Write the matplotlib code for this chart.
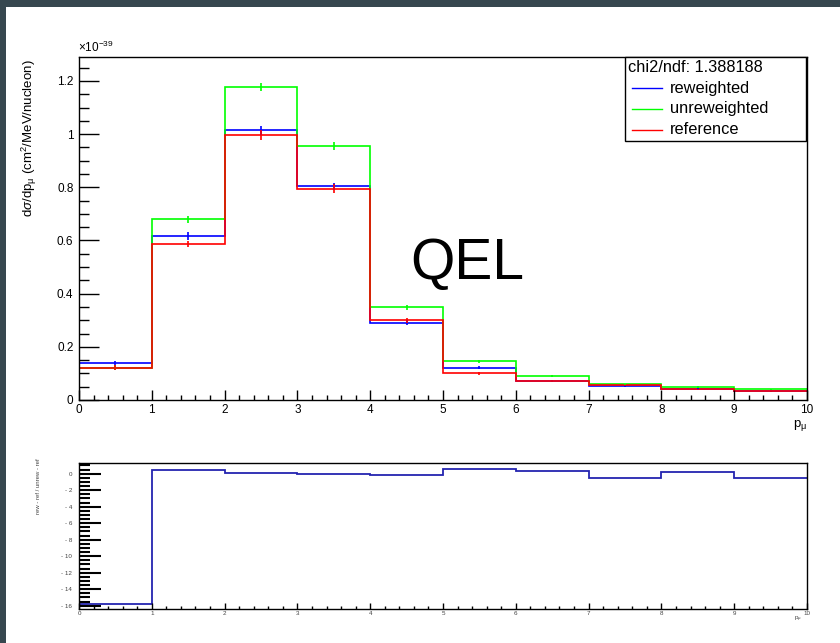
import matplotlib
matplotlib.use("Agg")
import matplotlib.pyplot as plt
from matplotlib.ticker import MultipleLocator, FuncFormatter
from matplotlib.patches import Rectangle
from matplotlib.lines import Line2D

plt.rcParams['font.family'] = ['Liberation Sans', 'DejaVu Sans']
plt.rcParams['mathtext.fontset'] = 'custom'
plt.rcParams['mathtext.rm'] = 'Liberation Sans'
plt.rcParams['mathtext.it'] = 'Liberation Sans:italic'
plt.rcParams['mathtext.bf'] = 'Liberation Sans:bold'

# ---- data (cross sections in units of 1e-39 cm^2/MeV/nucleon) ----
bin_edges = [0, 1, 2, 3, 4, 5, 6, 7, 8, 9, 10]
reweighted = [0.138, 0.617, 1.014, 0.803, 0.291, 0.122, 0.073, 0.052, 0.041, 0.033]
unreweighted = [0.122, 0.679, 1.177, 0.956, 0.348, 0.146, 0.089, 0.059, 0.050, 0.040]
reference = [0.122, 0.586, 0.996, 0.795, 0.299, 0.100, 0.072, 0.055, 0.040, 0.033]
err_reweighted = [0.008, 0.014, 0.018, 0.015, 0.009, 0.005, 0.004, 0.003, 0.003, 0.002]
err_unreweighted = [0.008, 0.012, 0.016, 0.014, 0.008, 0.005, 0.004, 0.003, 0.003, 0.002]
err_reference = [0.008, 0.012, 0.018, 0.016, 0.009, 0.005, 0.004, 0.003, 0.003, 0.002]
ratio = [-15.75, 0.46, 0.12, 0.01, -0.17, 0.53, 0.33, -0.53, 0.16, -0.53]
chi2_ndf = 1.388188
process_name = "QEL"

C_BLUE = '#0000ff'
C_GREEN = '#00ff00'
C_RED = '#ff0000'

W, H = 840, 643
fig = plt.figure(figsize=(W / 100, H / 100), dpi=100)
fig.patch.set_facecolor('#37474f')
# white canvas
fig.patches.append(Rectangle((6 / W, 0), 1, 1 - 7 / H, transform=fig.transFigure,
                             facecolor='white', edgecolor='none', zorder=-10))


def fx(px):
    return px / W


def fy(py):
    return 1 - py / H


centers = [(a + b) / 2 for a, b in zip(bin_edges[:-1], bin_edges[1:])]

# ---------------- main pad ----------------
ax = fig.add_axes([fx(79), fy(400), (807 - 79) / W, (400 - 57) / H])
for vals, errs, col in [(reweighted, err_reweighted, C_BLUE),
                        (unreweighted, err_unreweighted, C_GREEN),
                        (reference, err_reference, C_RED)]:
    ax.stairs(vals, bin_edges, baseline=None, color=col, lw=1.2)
    ax.errorbar(centers, vals, yerr=errs, fmt='none', ecolor=col, elinewidth=1.2, capsize=0)

ax.set_xlim(0, 10)
ax.set_ylim(0, 1.29)
ax.xaxis.set_major_locator(MultipleLocator(1))
ax.xaxis.set_minor_locator(MultipleLocator(0.2))
ax.yaxis.set_major_locator(MultipleLocator(0.2))
ax.yaxis.set_minor_locator(MultipleLocator(0.05))
fmt = FuncFormatter(lambda v, p: f"{v:g}")
ax.xaxis.set_major_formatter(fmt)
ax.yaxis.set_major_formatter(fmt)
ax.tick_params(axis='both', which='both', direction='in', top=False, right=False,
               colors='black', labelsize=8.5)
ax.tick_params(axis='y', which='major', length=14.5, width=1.0, pad=4)
ax.tick_params(axis='y', which='minor', length=7.2, width=1.0)
ax.tick_params(axis='x', which='major', length=7.2, width=1.0, pad=3)
ax.tick_params(axis='x', which='minor', length=3.6, width=1.0)
for s in ax.spines.values():
    s.set_linewidth(1.0)

fig.text(fx(410), fy(279), process_name, fontsize=41, ha='left', va='baseline')

fig.text(fx(78), fy(52), r'$\times$10$^{-39}$', fontsize=8.5, ha='left', va='baseline')
fig.text(fx(29), fy(59), r'd$\sigma$/dp$_{\mathrm{\mu}}$ (cm$^{2}$/MeV/nucleon)',
         rotation=90, fontsize=9.5, ha='center', va='top')
fig.text(fx(807), fy(418), r'p$_{\mathrm{\mu}}$', fontsize=9.5, ha='right', va='top')

# legend box
fig.patches.append(Rectangle((fx(625), fy(141)), (806 - 625) / W, (141 - 57) / H,
                             transform=fig.transFigure, facecolor='white',
                             edgecolor='black', lw=1.0, zorder=5))
fig.text(fx(628), fy(67), f"chi2/ndf: {chi2_ndf:.6f}", fontsize=11.8, ha='left',
         va='center', zorder=6)
for label, col, yy in [('reweighted', C_BLUE, 88), ('unreweighted', C_GREEN, 109),
                       ('reference', C_RED, 130)]:
    fig.lines.append(Line2D([fx(632), fx(662)], [fy(yy), fy(yy)], color=col, lw=1.0,
                            transform=fig.transFigure, zorder=6))
    fig.text(fx(670), fy(yy), label, fontsize=11.8, ha='left', va='center', zorder=6)

# ---------------- ratio pad ----------------
ax2 = fig.add_axes([fx(79), fy(609), (807 - 79) / W, (609 - 463) / H])
ax2.stairs(ratio, bin_edges, baseline=None, color='#2424b0', lw=1.3)
ax2.set_xlim(0, 10)
ax2.set_ylim(-16.4, 1.3)
ax2.xaxis.set_major_locator(MultipleLocator(1))
ax2.xaxis.set_minor_locator(MultipleLocator(0.2))
ax2.yaxis.set_major_locator(MultipleLocator(2))
ax2.yaxis.set_minor_locator(MultipleLocator(0.5))
ax2.xaxis.set_major_formatter(fmt)
ax2.yaxis.set_major_formatter(FuncFormatter(lambda v, p: f"{v:g}".replace('-', '- ')))
ax2.tick_params(axis='both', which='both', direction='in', top=False, right=False,
                colors='black', labelsize=4.5, labelcolor='#444444')
ax2.tick_params(axis='y', which='major', length=16, width=1.5, pad=5)
ax2.tick_params(axis='y', which='minor', length=8, width=1.5)
ax2.tick_params(axis='x', which='major', length=4, width=1.0, pad=1.5)
ax2.tick_params(axis='x', which='minor', length=2, width=1.0)
for s in ax2.spines.values():
    s.set_linewidth(1.0)

fig.text(fx(38), fy(458), 'rew - ref / unrew - ref', rotation=90, fontsize=4.3,
         color='#444444', ha='center', va='top')
fig.text(fx(802), fy(615), r'p$_{\mathrm{\mu}}$', fontsize=4.5, color='#444444',
         ha='right', va='top')

fig.savefig('out.png', dpi=100, facecolor=fig.get_facecolor())
